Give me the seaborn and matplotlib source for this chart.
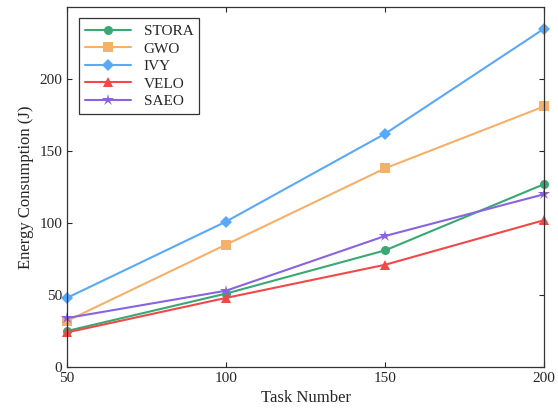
import pandas as pd
import matplotlib
matplotlib.use('Agg')
import matplotlib.pyplot as plt
import seaborn as sns

tasks = [50, 100, 150, 200]
stora = [25, 51, 81, 127]
gwo = [32, 85, 138, 181]
ivy = [48, 101, 162, 235]
velo = [24, 48, 71, 102]
saeo = [34, 53, 91, 120]

methods = ['STORA', 'GWO', 'IVY', 'VELO', 'SAEO']
colors = ['#3aa872', '#f5b06a', '#5aa9f7', '#f24848', '#8a64de']
markers = ['o', 's', 'D', '^', '*']

rows = []
for name, vals in zip(methods, [stora, gwo, ivy, velo, saeo]):
    for t, v in zip(tasks, vals):
        rows.append({'Task': t, 'Energy': v, 'Method': name})
df = pd.DataFrame(rows)

sns.set_style('ticks')
plt.rcParams['font.family'] = ['Liberation Serif', 'DejaVu Serif']

fig = plt.figure(figsize=(5.58, 4.18), dpi=100)
ax = fig.add_axes([0.12, 0.122, 0.855, 0.861])

sns.lineplot(data=df, x='Task', y='Energy', hue='Method', style='Method',
             palette=colors, markers=markers, dashes=False, markersize=6.5,
             linewidth=1.5, markeredgewidth=0, clip_on=False, ax=ax)
# star marker looks smaller than the others, bump it
for ln in ax.get_lines():
    if ln.get_marker() == '*':
        ln.set_markersize(9)

ax.set_xlim(50, 200)
ax.set_ylim(0, 250)
ax.set_xticks(tasks)
ax.set_yticks([0, 50, 100, 150, 200])
ax.tick_params(direction='in', top=True, right=True, labelsize=11, length=3.5)
for s in ax.spines.values():
    s.set_linewidth(0.9)
    s.set_color('#333333')
ax.set_xlabel('Task Number', fontsize=12)
ax.set_ylabel('Energy Consumption (J)', fontsize=12)

leg = ax.legend(loc='upper left', fontsize=11, frameon=True, fancybox=False,
                edgecolor='black', handlelength=3, borderpad=0.4,
                labelspacing=0.25, bbox_to_anchor=(0.01, 0.99))
leg.get_frame().set_linewidth(0.9)
for h in leg.legend_handles:
    if h.get_marker() == '*':
        h.set_markersize(9)

fig.savefig('out.png', dpi=100)
